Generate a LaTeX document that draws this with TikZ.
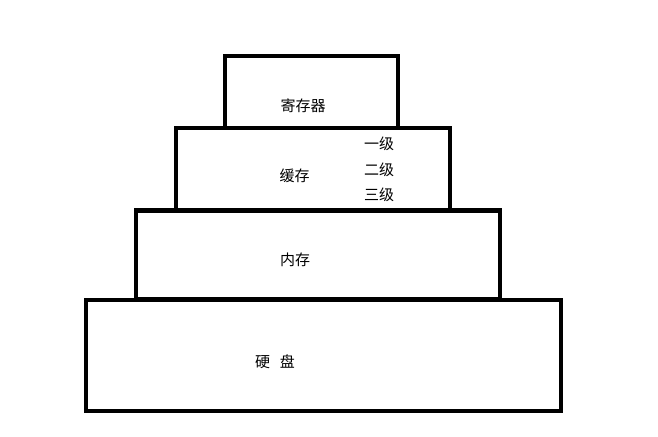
\documentclass[tikz,border=0pt]{standalone}
\usepackage{fontspec}
\newfontfamily\cjkfont{Noto Sans CJK SC}
\usetikzlibrary{shapes}
\tikzstyle{level}=[draw,rectangle,line width=4.6pt,inner sep=0pt]
\tikzstyle{tag}=[font=\cjkfont\fontsize{15}{15}\selectfont,inner sep=0pt]

\begin{document}
\begin{tikzpicture}[x=1pt,y=-1pt]
      \useasboundingbox (0,0) rectangle (658,436);
      \node[level,minimum width=173pt,minimum height=72pt] (reg) at (311.5,92) {};
      \node[level,minimum width=274pt,minimum height=82pt] (cache) at (313,169) {};
      \node[level,minimum width=364pt,minimum height=89pt] (mem) at (318,255) {};
      \node[level,minimum width=475pt,minimum height=111pt] (disk) at (323.5,355.5) {};
      \node[tag] (regtext) at (303,105.5) {寄存器};
      \node[tag] (cachetext) at (294.5,176) {缓存};
      \node[tag] (l1) at (379,144) {一级};
      \node[tag] (l2) at (379,169.5) {二级};
      \node[tag] (l3) at (379,195) {三级};
      \node[tag] (memtext) at (295,259.5) {内存};
      \node[tag] (disktext) at (275,362) {硬\hspace{10pt}盘};
    \end{tikzpicture}
\end{document}
